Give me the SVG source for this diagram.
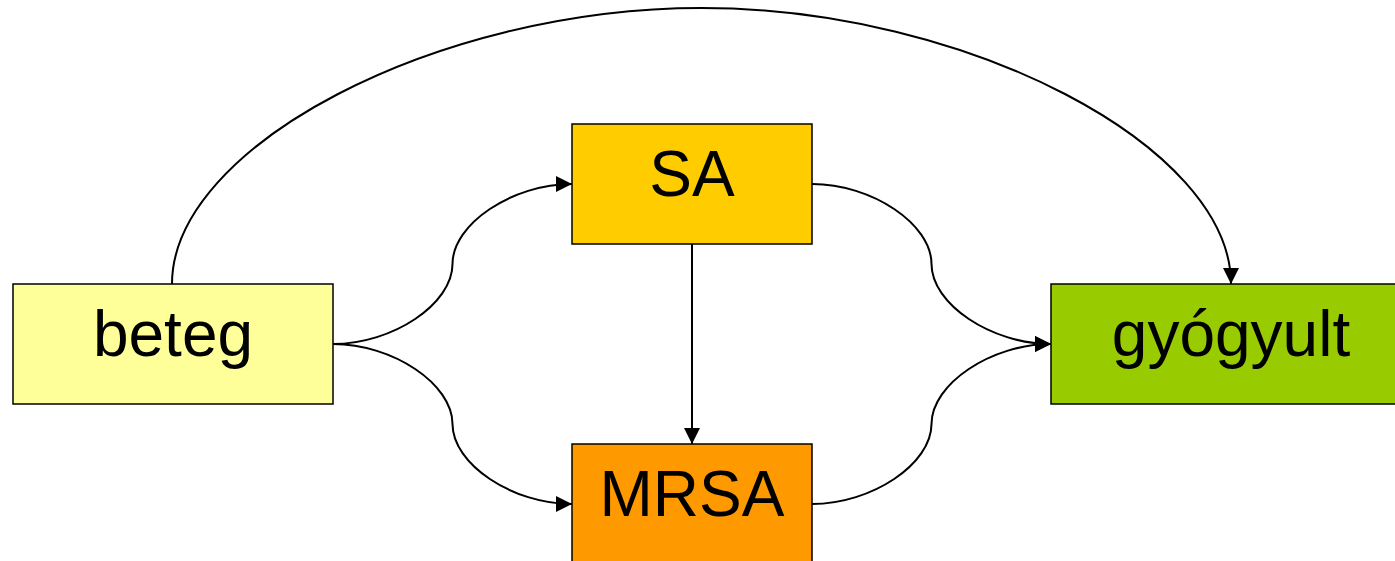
<svg xmlns="http://www.w3.org/2000/svg" width="1395" height="561" viewBox="0 0 1395 561">
<style>
.box{stroke:#000;stroke-width:1.5}
.lbl{font-family:"Liberation Sans",Arial,sans-serif;font-size:64px;text-anchor:middle;fill:#000}
.con{fill:none;stroke:#000;stroke-width:2}
</style>
<defs>
<marker id="arr" markerUnits="userSpaceOnUse" markerWidth="16" markerHeight="16" refX="16" refY="8" orient="auto" viewBox="0 0 16 16">
<path d="M0,0 L16,8 L0,16 z" fill="#000"/>
</marker>
</defs>
<rect width="1395" height="561" fill="#fff"/>
<g id="connectors">
<path class="con" marker-end="url(#arr)" d="M172,284 C172,146 437,8 701.5,8 C966,8 1231,146 1231,284"/>
<path class="con" marker-end="url(#arr)" d="M333,344 C392.75,344 452.5,304 452.5,264 C452.5,224 512.25,184 572,184"/>
<path class="con" marker-end="url(#arr)" d="M333,344 C392.75,344 452.5,384 452.5,424 C452.5,464 512.25,504 572,504"/>
<path class="con" marker-end="url(#arr)" d="M692,244 L692,444"/>
<path class="con" marker-end="url(#arr)" d="M812,184 C871.75,184 931.5,224 931.5,264 C931.5,304 991.25,344 1051,344"/>
<path class="con" marker-end="url(#arr)" d="M812,504 C871.75,504 931.5,464 931.5,424 C931.5,384 991.25,344 1051,344"/>
</g>
<g id="beteg">
<rect class="box" x="13" y="284" width="320" height="120" fill="#FFFF99"/>
<text class="lbl" x="173" y="356">beteg</text>
</g>
<g id="SA">
<rect class="box" x="572" y="124" width="240" height="120" fill="#FFCC00"/>
<text class="lbl" x="692" y="196">SA</text>
</g>
<g id="MRSA">
<rect class="box" x="572" y="444" width="240" height="120" fill="#FF9900"/>
<text class="lbl" x="692" y="516">MRSA</text>
</g>
<g id="gyogyult">
<rect class="box" x="1051" y="284" width="360" height="120" fill="#99CC00"/>
<text class="lbl" x="1231" y="356">gyógyult</text>
</g>
</svg>
